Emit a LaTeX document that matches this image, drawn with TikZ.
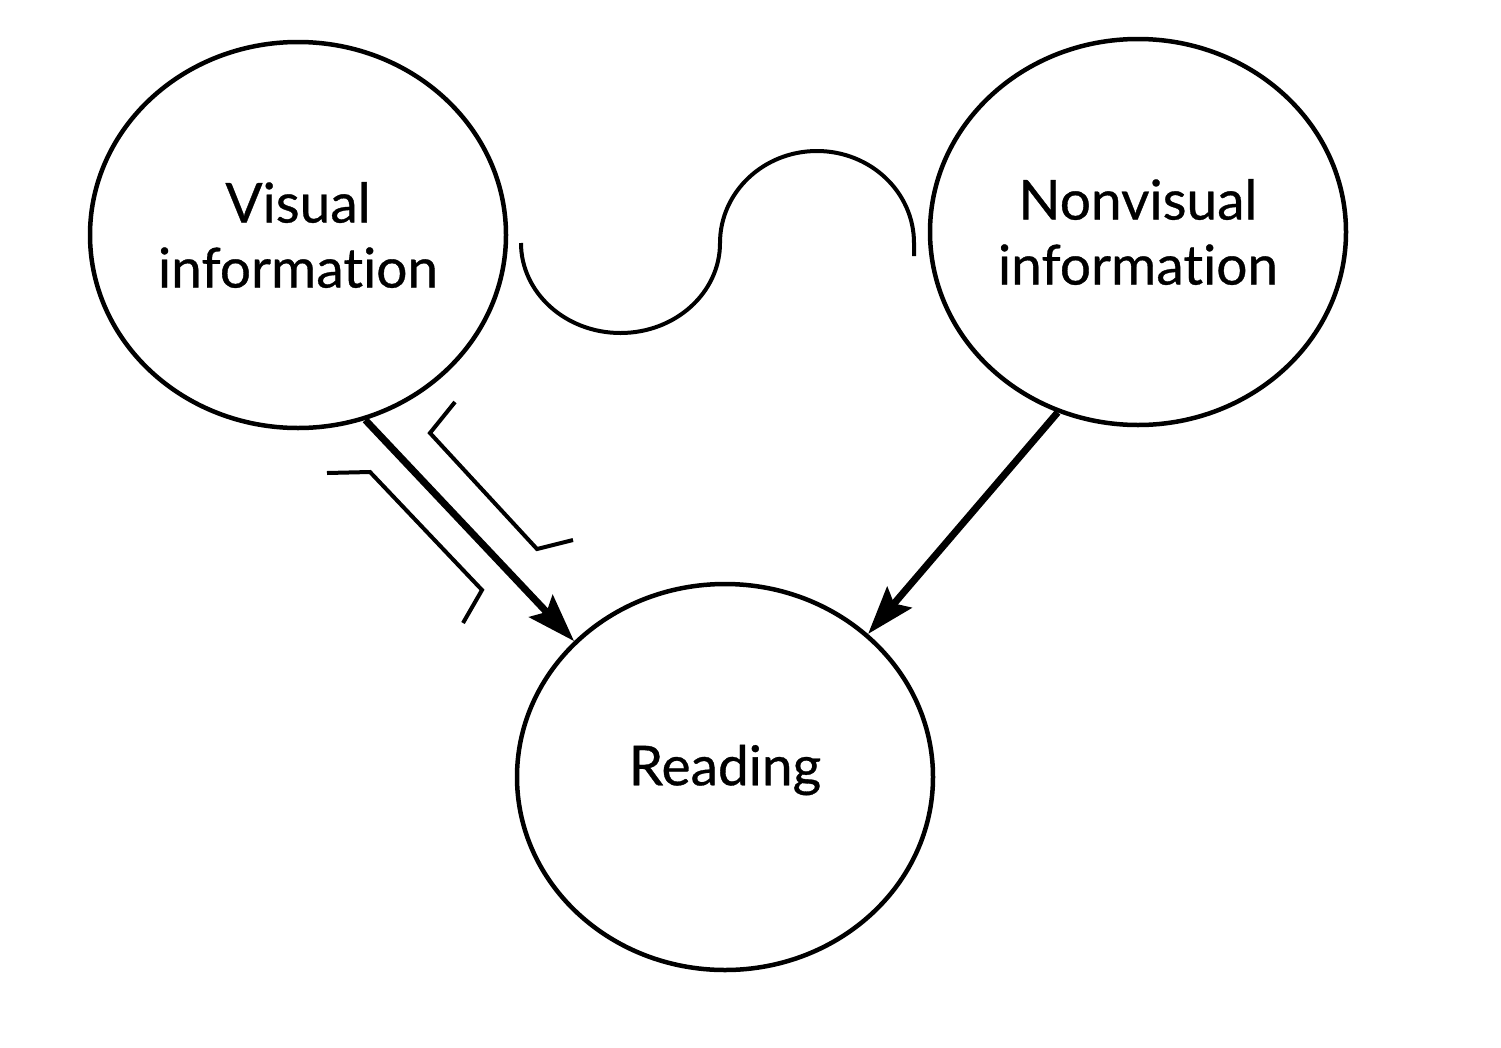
\documentclass[tikz,border=0pt]{standalone}
\usepackage{fontspec}
\setmainfont{Lato}[Ligatures={NoCommon,NoRequired,NoContextual}]
\newfontfamily\labelfont{Lato}[Ligatures={NoCommon,NoRequired,NoContextual},FakeBold=0.6]
\usetikzlibrary{shapes.geometric,arrows.meta}
\begin{document}
\begin{tikzpicture}[x=1pt,y=-1pt,
  bubble/.style={draw, ellipse, line width=4.5pt, minimum width=416pt, minimum height=386pt, inner sep=0pt,
    font=\labelfont\fontsize{55}{65}\selectfont, align=center},
  thin/.style={line width=4pt, line join=miter},
  arr/.style={line width=7pt, -{Stealth[length=48pt,width=32pt,inset=8pt]}}]
\useasboundingbox (0,0) rectangle (1501,1047);
\node[bubble] (vis) at (298,235) {Visual\\information};
\node[bubble] (nonvis) at (1138,232) {Nonvisual\\information};
\node[bubble] (read) at (725,777) {\raisebox{24pt}{Reading}};
% connectors
\draw[arr] (vis.-70) -- (read.138);
\draw[arr] (nonvis.-114) -- (read.45);
% channel walls
\coordinate (a1) at (455,402); \coordinate (a2) at (430,433);
\coordinate (a3) at (537,549); \coordinate (a4) at (573,540);
\draw[thin] (a1) -- (a2) -- (a3) -- (a4);
\coordinate (b1) at (327,473); \coordinate (b2) at (370,472);
\coordinate (b3) at (482,590); \coordinate (b4) at (463,623);
\draw[thin] (b1) -- (b2) -- (b3) -- (b4);
% wave
\coordinate (w0) at (521,243);
\draw[thin] (w0) arc[start angle=180, end angle=0, x radius=99.5, y radius=90]
  arc[start angle=180, end angle=360, x radius=97, y radius=92] -- ++(0,13);
\end{tikzpicture}
\end{document}
